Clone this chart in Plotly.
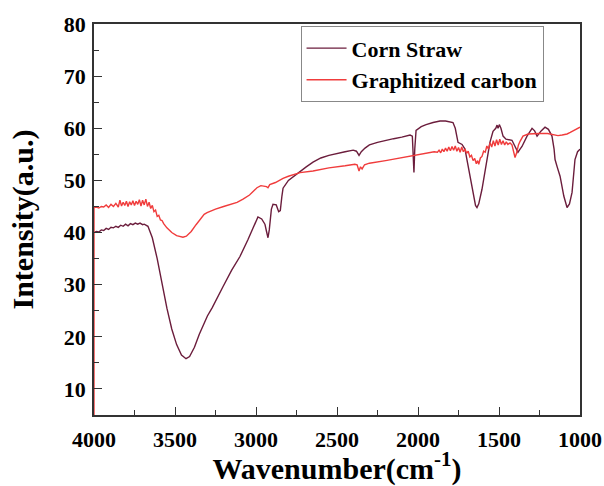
import plotly.graph_objects as go

# ---- Corn Straw ----
corn_wn = [4000, 3985, 3970, 3955, 3940, 3925, 3910, 3895, 3880, 3865, 3850, 3835, 3820, 3805, 3790,
           3775, 3760, 3745, 3730, 3716, 3700, 3690, 3667, 3640, 3610, 3580, 3550, 3520, 3490, 3460,
           3432, 3410, 3380, 3350, 3320, 3300, 3270, 3240, 3204, 3150, 3099, 3050, 3010, 2988, 2965,
           2945, 2935, 2926, 2918, 2905, 2895, 2875, 2860, 2850, 2840, 2833, 2800, 2760, 2728, 2690,
           2648, 2600, 2550, 2500, 2450, 2400, 2380, 2364, 2350, 2327, 2300, 2250, 2200, 2150, 2100,
           2049, 2035, 2030, 2025, 2020, 2012, 1980, 1950, 1907, 1864, 1830, 1800, 1784, 1770, 1753,
           1728, 1710, 1695, 1679, 1660, 1645, 1636, 1625, 1605, 1590, 1574, 1556, 1537, 1520, 1512,
           1506, 1498, 1488, 1475, 1457, 1420, 1401, 1383, 1370, 1358, 1327, 1296, 1280, 1265, 1240,
           1216, 1195, 1173, 1160, 1154, 1140, 1123, 1100, 1080, 1065, 1049, 1031, 1015, 1000]
corn_val = [40.0, 40.2, 40.1, 40.5, 40.4, 40.8, 40.6, 41.0, 40.9, 41.2, 41.0, 41.4, 41.2, 41.6, 41.3,
            41.7, 41.5, 41.8, 41.6, 41.8, 41.5, 41.6, 41.2, 39.0, 35.0, 30.0, 25.5, 21.5, 18.5, 16.5,
            15.8, 16.2, 18.0, 20.5, 22.8, 24.0, 25.6, 27.5, 29.6, 32.8, 35.4, 38.6, 41.3, 43.0, 42.6,
            41.6, 40.2, 39.0, 40.5, 44.5, 45.4, 45.3, 44.0, 44.2, 47.0, 48.5, 50.0, 51.0, 51.7, 52.6,
            53.5, 54.3, 54.8, 55.2, 55.5, 55.8, 55.6, 54.8, 55.5, 56.2, 56.8, 57.3, 57.7, 58.0, 58.3,
            58.7, 58.5, 56.0, 51.5, 56.0, 59.6, 60.3, 60.7, 61.1, 61.4, 61.4, 61.2, 61.1, 60.0, 57.3,
            56.9, 56.0, 53.5, 50.8, 47.5, 45.2, 44.8, 45.5, 48.3, 51.0, 54.0, 57.3, 59.4, 60.0, 60.6,
            60.0, 60.7, 60.0, 58.5, 57.9, 57.7, 56.5, 55.4, 56.0, 56.5, 58.5, 60.0, 59.5, 58.5, 59.5,
            60.2, 59.8, 58.5, 56.0, 54.0, 52.5, 50.8, 47.0, 44.8, 45.5, 47.7, 54.0, 55.5, 56.0]

# ---- Graphitized carbon ----
gc_wn = [4000, 4000, 3985, 3970, 3955, 3940, 3925, 3910, 3895, 3880, 3865, 3850, 3840, 3830, 3820,
         3810, 3800, 3790, 3780, 3770, 3760, 3750, 3740, 3730, 3720, 3710, 3700, 3690, 3680, 3670,
         3660, 3650, 3640, 3630, 3620, 3610, 3600, 3590, 3580, 3570, 3550, 3520, 3490, 3460, 3451,
         3430, 3400, 3370, 3340, 3320, 3302, 3250, 3200, 3150, 3117, 3080, 3040, 3010, 2994, 2970,
         2950, 2935, 2926, 2915, 2880, 2833, 2800, 2760, 2728, 2648, 2550, 2450, 2390, 2376, 2364,
         2355, 2345, 2330, 2300, 2200, 2100, 2031, 1950, 1900, 1880, 1870, 1860, 1850, 1840, 1830,
         1820, 1810, 1800, 1790, 1780, 1770, 1760, 1750, 1740, 1730, 1720, 1710, 1700, 1690, 1680,
         1670, 1660, 1650, 1640, 1632, 1625, 1615, 1605, 1595, 1585, 1575, 1565, 1555, 1545, 1535,
         1525, 1515, 1505, 1495, 1485, 1475, 1465, 1455, 1445, 1432, 1420, 1410, 1401, 1392, 1380,
         1370, 1352, 1320, 1290, 1250, 1200, 1160, 1136, 1110, 1080, 1060, 1043, 1020, 1000]
gc_val = [0.0, 44.8, 44.9, 44.7, 45.0, 44.9, 45.3, 44.8, 45.4, 45.0, 45.6, 44.9, 46.2, 45.1, 45.8,
          45.2, 46.0, 45.0, 45.9, 45.3, 46.1, 45.2, 46.0, 45.4, 46.3, 45.1, 46.2, 45.3, 46.4, 45.0,
          45.8, 44.6, 45.2, 44.0, 44.3, 43.1, 43.3, 42.4, 42.3, 41.7, 40.9, 40.0, 39.4, 39.1, 39.1,
          39.3, 40.2, 41.5, 42.8, 43.5, 43.8, 44.5, 45.0, 45.5, 45.8, 46.4, 47.2, 48.1, 48.6, 49.0,
          48.9, 48.8, 48.6, 49.2, 49.6, 50.4, 50.8, 51.2, 51.5, 51.8, 52.4, 52.8, 53.1, 53.0, 51.8,
          52.6, 52.2, 53.0, 53.3, 53.8, 54.4, 54.8, 55.2, 55.5, 55.4, 55.8, 55.3, 56.0, 55.5, 56.2,
          55.6, 56.4, 55.7, 56.5, 55.8, 56.6, 55.6, 56.3, 55.4, 56.4, 55.5, 56.0, 55.2, 55.6, 54.5,
          54.8, 53.8, 54.2, 53.2, 53.8, 53.1, 54.3, 54.6, 55.6, 55.4, 56.6, 56.0, 57.2, 56.4, 57.6,
          56.6, 57.8, 56.8, 57.9, 56.9, 57.6, 56.8, 57.4, 56.9, 57.2, 56.8, 55.6, 54.4, 55.2, 56.8,
          57.5, 58.5, 58.9, 59.0, 59.0, 59.0, 58.8, 58.6, 58.7, 58.9, 59.2, 59.5, 59.8, 60.2]

x_ticks = [4000, 3500, 3000, 2500, 2000, 1500, 1000]
y_ticks = [10, 20, 30, 40, 50, 60, 70, 80]

FONT = "Liberation Serif"
AXC = "#333333"

fig = go.Figure()
fig.add_trace(go.Scatter(x=corn_wn, y=corn_val, mode="lines", name="Corn Straw",
                         line=dict(color="#6b1d3c", width=1.4)))
fig.add_trace(go.Scatter(x=gc_wn, y=gc_val, mode="lines", name="Graphitized carbon",
                         line=dict(color="#f03c3c", width=1.4)))

fig.update_layout(
    width=604, height=486,
    margin=dict(l=94, r=24, t=24, b=71),
    paper_bgcolor="white", plot_bgcolor="white",
    font=dict(family=FONT, color="black"),
    legend=dict(x=0.425, y=0.994, xanchor="left", yanchor="top",
                bordercolor="#888888", borderwidth=1, bgcolor="white",
                font=dict(family=FONT, size=22, weight="bold", color="black"),
                tracegroupgap=0, itemwidth=40),
    showlegend=True,
)
fig.update_xaxes(
    range=[4000, 1000], tickvals=x_ticks, ticktext=[str(v) for v in x_ticks],
    automargin=False,
    showgrid=False, zeroline=False, showline=True, linecolor=AXC, linewidth=1.5, mirror=True,
    ticks="inside", ticklen=8, tickwidth=1.2, tickcolor=AXC,
    minor=dict(ticks="inside", ticklen=5, tickwidth=1.2, tickcolor=AXC, dtick=250, showgrid=False),
    tickfont=dict(family=FONT, size=22, weight="bold", color="black"),
    ticklabelstandoff=4,
    title=dict(text="Wavenumber(cm<sup>-1</sup>)", font=dict(family=FONT, size=30, weight="bold", color="black"),
               standoff=2),
)
fig.update_yaxes(
    range=[5, 80], tickvals=y_ticks, ticktext=[str(v) for v in y_ticks],
    automargin=False,
    showgrid=False, zeroline=False, showline=True, linecolor=AXC, linewidth=1.5, mirror=True,
    ticks="inside", ticklen=8, tickwidth=1.2, tickcolor=AXC,
    minor=dict(ticks="inside", ticklen=5, tickwidth=1.2, tickcolor=AXC, dtick=5, showgrid=False),
    tickfont=dict(family=FONT, size=22, weight="bold", color="black"),
    ticklabelstandoff=2,
    title=dict(text="Intensity(a.u.)", font=dict(family=FONT, size=30, weight="bold", color="black"),
               standoff=21),
)

fig.write_html("out.html", config={"displayModeBar": False},
               post_script="document.body.style.margin='0';document.body.style.overflow='hidden';")
